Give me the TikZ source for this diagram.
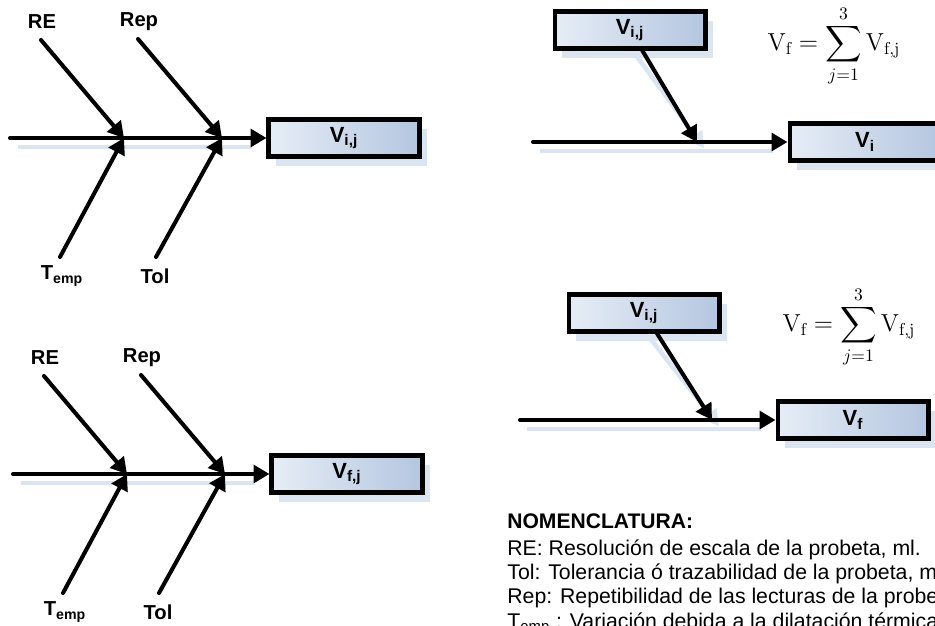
\documentclass[tikz,border=0pt]{standalone}
\usepackage{fontspec}
\setsansfont{Liberation Sans}
\usepackage{amsmath}
\usetikzlibrary{arrows.meta,positioning,shadows,backgrounds}
\definecolor{boxlight}{RGB}{230,237,246}
\definecolor{boxdark}{RGB}{180,198,224}
\definecolor{shadeblue}{RGB}{219,229,242}
\tikzset{
  bone/.style={-{Triangle[length=9pt,width=10pt]}, line width=2.3pt, line cap=round},
  boneshade/.style={line width=2.6pt, shadeblue},
  valbox/.style={draw, line width=2.3pt, left color=boxlight, right color=boxdark,
    minimum width=3.02cm, minimum height=0.74cm, inner sep=0pt,
    font=\sffamily\bfseries\fontsize{12.5}{14}\selectfont,
    drop shadow={shadow xshift=4.5pt, shadow yshift=-5.5pt, fill=shadeblue, opacity=1}},
  causelbl/.style={font=\sffamily\bfseries\fontsize{11.5}{13}\selectfont},
  nomline/.style={anchor=base west, inner sep=0pt, font=\sffamily\fontsize{12.1}{14}\selectfont},
  sumeq/.style={font=\fontsize{14}{17}\selectfont},
}

\begin{document}
\begin{tikzpicture}[x=0.02cm, y=-0.02cm]
  \useasboundingbox (0,0) rectangle (935,625);
  \clip (0,0) rectangle (935,625);
  % two fishbones on the left
  \foreach \dx/\dy/\nm/\val in {0/0/a/{V\textsubscript{i,j}}, 3/336/b/{V\textsubscript{f,j}}}{
    \begin{scope}[shift={(\dx,\dy)}]
      \coordinate (\nm-s) at (10,138);
      \coordinate (\nm-j1) at (124,138);
      \coordinate (\nm-j2) at (222,138);
      \coordinate (\nm-re) at (41,40);
      \coordinate (\nm-rep) at (138,39);
      \coordinate (\nm-tmp) at (60,257);
      \coordinate (\nm-tol) at (156,257);
      \node[valbox] (\nm-box) at (344,138) {\val};
      \node[causelbl] (\nm-lre) at (42,22) {RE};
      \node[causelbl] (\nm-lrep) at (139,22) {Rep};
      \node[causelbl] (\nm-ltmp) at (62,276) {T\textsubscript{emp}};
      \node[causelbl] (\nm-ltol) at (155,276) {Tol};
      \begin{scope}[on background layer]
        \draw[boneshade] ([shift={(8,9)}]\nm-s) -- ([shift={(30,9)}]\nm-j2);
      \end{scope}
      \draw[bone] (\nm-s) -- (\nm-box);
      \draw[bone] (\nm-re) -- (\nm-j1);
      \draw[bone] (\nm-rep) -- (\nm-j2);
      \draw[bone] (\nm-tmp) -- (\nm-j1);
      \draw[bone] (\nm-tol) -- (\nm-j2);
    \end{scope}
  }
  % summation, upper stage
  \node[valbox] (c-in) at (630,30) {V\textsubscript{i,j}};
  \node[valbox] (c-out) at (865,142) {V\textsubscript{i}};
  \coordinate (c-s) at (533,142);
  \coordinate (c-j) at (697,142);
  \node[sumeq] (c-eq) at (834,46)
    {$\mathrm{V}_{\mathrm{f}} = \displaystyle\sum_{j=1}^{3}\mathrm{V}_{\mathrm{f,j}}$};
  % summation, lower stage
  \node[valbox] (d-in) at (644,313) {V\textsubscript{i,j}};
  \node[valbox] (d-out) at (853,420) {V\textsubscript{f}};
  \coordinate (d-s) at (520,420);
  \coordinate (d-j) at (712,420);
  \node[sumeq] (d-eq) at (849,327)
    {$\mathrm{V}_{\mathrm{f}} = \displaystyle\sum_{j=1}^{3}\mathrm{V}_{\mathrm{f,j}}$};
  \begin{scope}[on background layer]
    \draw[boneshade] ([shift={(7,9)}]c-s) -- ([shift={(-15,9)}]c-out.west);
    \draw[boneshade] ([shift={(7,9)}]d-s) -- ([shift={(-15,9)}]d-out.west);
    \draw[boneshade, -{Triangle[length=9pt,width=10pt]}] ([shift={(7,6)}]c-in.south) -- ([shift={(7,6)}]c-j);
    \draw[boneshade, -{Triangle[length=9pt,width=10pt]}] ([shift={(7,6)}]d-in.south) -- ([shift={(7,6)}]d-j);
  \end{scope}
  \draw[bone] (c-s) -- (c-out);
  \draw[bone] (c-in) -- (c-j);
  \draw[bone] (d-s) -- (d-out);
  \draw[bone] (d-in) -- (d-j);
  % nomenclature
  \node[nomline, font=\sffamily\bfseries\fontsize{12}{14}\selectfont] (nomhead) at (507,528) {NOMENCLATURA:};
  \node[nomline] (nom1) at (507,555) {RE: Resolución de escala de la probeta, ml.};
  \node[nomline] (nom2) at (507,579) {Tol: Tolerancia ó trazabilidad de la probeta, ml.};
  \node[nomline] (nom3) at (507,603) {Rep: Repetibilidad de las lecturas de la probeta, ml.};
  \node[nomline] (nom4) at (507,628) {T\textsubscript{emp} : Variación debida a la dilatación térmica de};
\end{tikzpicture}
\end{document}
